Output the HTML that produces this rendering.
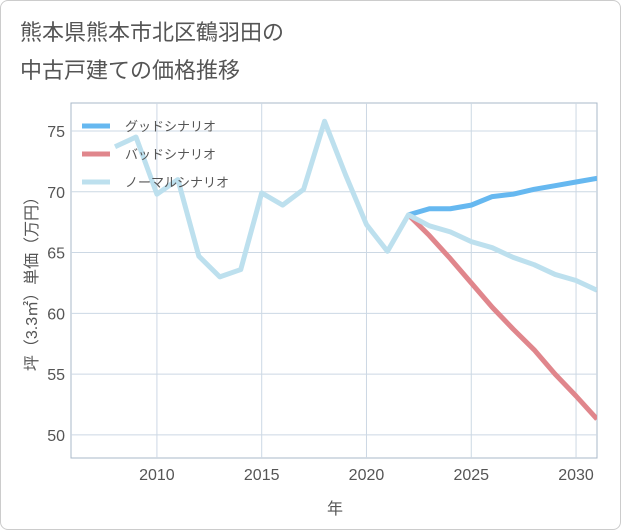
<!DOCTYPE html>
<html><head><meta charset="utf-8"><style>
body{margin:0;background:#fff;font-family:"Liberation Sans","Noto Sans CJK JP",sans-serif;}
#wrap{position:relative;width:619px;height:528px;border:1px solid #ccc;border-radius:8px;background:#fff;overflow:hidden}
</style></head><body>
<div id="wrap">
<svg id="c" width="621" height="530" style="position:absolute;left:-1px;top:-1px">
<text x="20" y="40" font-size="22" fill="#555" font-family="Liberation Sans,Noto Sans CJK JP,sans-serif">熊本県熊本市北区鶴羽田の</text>
<text x="20" y="78" font-size="22" fill="#555" font-family="Liberation Sans,Noto Sans CJK JP,sans-serif">中古戸建ての価格推移</text>
<g id="grid"></g><g id="marks"></g><g id="legend"></g>
<text x="335" y="514" font-size="16" fill="#555" text-anchor="middle">年</text>
<text transform="translate(37,280) rotate(-90)" font-size="16" fill="#555" text-anchor="middle">坪（3.3㎡）単価（万円）</text>
</svg></div>
<script>
const years=[2008,2009,2010,2011,2012,2013,2014,2015,2016,2017,2018,2019,2020,2021,2022,2023,2024,2025,2026,2027,2028,2029,2030,2031];
const normalVals=[73.7,74.5,69.8,71,64.7,63,63.6,69.9,68.9,70.2,75.8,71.4,67.3,65.1,68.1,67.2,66.7,65.9,65.4,64.6,64,63.2,62.7,61.9];
const futureYears=[2022,2023,2024,2025,2026,2027,2028,2029,2030,2031];
const goodVals=[68.1,68.6,68.6,68.9,69.6,69.8,70.2,70.5,70.8,71.1];
const badVals=[68.1,66.4,64.5,62.5,60.5,58.7,57.0,55.0,53.2,51.3];
const xTicks=[2010,2015,2020,2025,2030];
const yTicks=[50,55,60,65,70,75];
const legendLabels=["グッドシナリオ","バッドシナリオ","ノーマルシナリオ"];
const L=71,R=597,T=103,B=458,X0=2005.9,X1=2031,Y0=48.1,Y1=77.3;
const sx=v=>L+(v-X0)/(X1-X0)*(R-L), sy=v=>B-(v-Y0)/(Y1-Y0)*(B-T);
const NS="http://www.w3.org/2000/svg";
function mk(p,t,a){const e=document.createElementNS(NS,t);for(const k in a)e.setAttribute(k,a[k]);p.appendChild(e);return e;}
const g=document.getElementById('grid'),m=document.getElementById('marks'),lg=document.getElementById('legend');
const frame=mk(g,'rect',{x:L,y:T,width:R-L,height:B-T,fill:'none',stroke:'#aab8c8'});

xTicks.forEach(v=>{const l=mk(g,'line',{x1:sx(v),x2:sx(v),y1:T,y2:B,stroke:'#ccd8e4'});

const t=mk(g,'text',{x:sx(v),y:B+22,'font-size':16,fill:'#555','text-anchor':'middle'});t.textContent=v;
});
yTicks.forEach(v=>{const l=mk(g,'line',{x1:L,x2:R,y1:sy(v),y2:sy(v),stroke:'#ccd8e4'});

const t=mk(g,'text',{x:L-6,y:sy(v)+6,'font-size':16,fill:'#555','text-anchor':'end'});t.textContent=v;
});
const cp=mk(m,'clipPath',{id:'cp'});mk(cp,'rect',{x:L,y:T,width:R-L,height:B-T});
function line(xs,ys,c,name){const p=mk(m,'polyline',{points:xs.map((x,i)=>sx(x)+','+sy(ys[i])).join(' '),fill:'none',stroke:c,'stroke-width':5,'stroke-linejoin':'round','clip-path':'url(#cp)'});
}
line(futureYears,badVals,'#e0868c','bad-scenario-line');
line(futureYears,goodVals,'#66b8f0','good-scenario-line');
line(years,normalVals,'#bde0ee','normal-scenario-line');
['#66b8f0','#e0868c','#bde0ee'].forEach((c,i)=>{const y=126+i*28;
const s=mk(lg,'line',{x1:82,x2:110,y1:y,y2:y,stroke:c,'stroke-width':5});

const t=mk(lg,'text',{x:125,y:y+5,'font-size':13,fill:'#555'});t.textContent=legendLabels[i];
});
</script>
</body></html>
